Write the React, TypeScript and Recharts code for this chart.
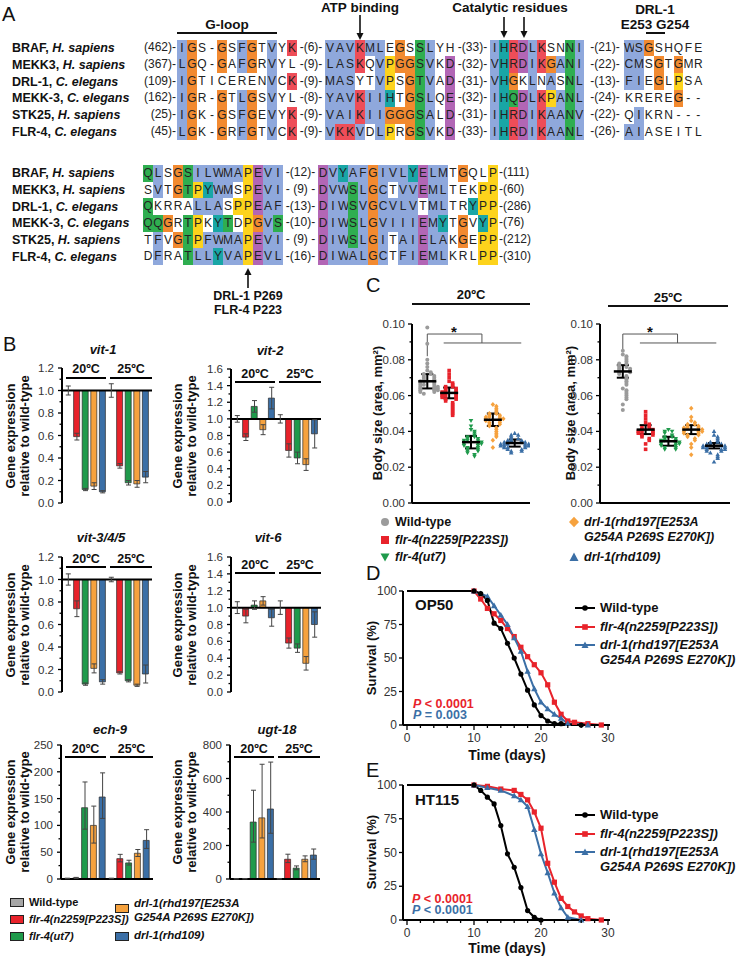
import React from "react";
import {
  ComposedChart,
  ScatterChart,
  LineChart,
  Bar,
  Cell,
  Scatter,
  Line,
  ErrorBar,
  XAxis,
  YAxis,
  ReferenceLine,
} from "recharts";

const FONT = '"Liberation Sans", Arial, Helvetica, sans-serif';

const C_GRAY = "#a6a6a6";
const C_RED = "#e8232b";
const C_GREEN = "#1f9a4b";
const C_ORANGE = "#f6a23e";
const C_BLUE = "#3b6fa6";
const groupColors = [C_GRAY, C_RED, C_GREEN, C_ORANGE, C_BLUE];

// ---------- panel A: alignment ----------
const alignNames = ["BRAF", "MEKK3", "DRL-1", "MEKK-3", "STK25", "FLR-4"];
const alignSpecies = ["H. sapiens", "H. sapiens", "C. elegans", "C. elegans", "H. sapiens", "C. elegans"];
const block1Starts = ["(462)-", "(367)-", "(109)-", "(162)-", "(25)-", "(45)-"];
const block1Gaps = [
  ["-(6)-", "-(33)-", "-(21)-"],
  ["-(9)-", "-(32)-", "-(22)-"],
  ["-(9)-", "-(31)-", "-(13)-"],
  ["-(8)-", "-(32)-", "-(24)-"],
  ["-(9)-", "-(31)-", "-(22)-"],
  ["-(9)-", "-(33)-", "-(26)-"],
];
const block1Seq = [
  ["IGS-GSFGTVYK", "VAVKMLEGSSLYH", "IHRDLKSNNI", "WSGSHQFE"],
  ["LGQ-GAFGRVYL", "LASKQVPGGSVKD", "VHRDIKGANI", "CMSGTGMR"],
  ["IGTICERENVCK", "MASYTVPSGTVAD", "VHGKLNASNL", "FIEGLPSA"],
  ["IGR-GTLGSVYL", "YAVKIIHTGSLQE", "IHQDLKPANL", "KREREG--"],
  ["IGK-GSFGEVYK", "VAIKIIGGGSALD", "IHRDIKAANV", "QIKRN---"],
  ["LGK-GRFGTVCK", "VKKVDLPRGSVKD", "IHRDIKAANL", "AIASEITL"],
];
const block1Col = [
  ["bo..o.bo.b.r", "bbbrbb.o.gb..", "bcrpbr..gb", "bbo....."],
  ["bo..o.bo.b..", "bbbr.byoogb.p", "bcrpbrobgb", "bb.o.o.."],
  ["bo.......b.r", "bbb..by.ogb.p", "bco.b.b.gb", "bb.o.y.."],
  ["bo..o.bo.b..", "bbbrbbc.ogb.p", "bcgpbrybgb", ".....o.."],
  ["bo..o.bo.b.r", "bbbrbbooogb.p", "bcrpbrbbgb", ".b......"],
  ["bo..o.bo.b.r", "brrb.by.ogb.p", "bcrpbrbbgb", "bb......"],
];
const block2Seq = [
  ["QLSGSILWMAPEVI", "DVYAFGIVLYELMTGQLP"],
  ["SVTGTPYWMSPEVI", "DVWSLGCTVVEMLTEKPP"],
  ["QKRRALLASPPEAF", "DIWSVGCVLVTMLTRYPP"],
  ["QQGRTPKYTDPGVS", "DIWSLGVIIIEMYTGVYP"],
  ["TFVGTPFWMAPEVI", "DIWSLGITAIELAKGEPP"],
  ["DFRATLLYVAPEVL", "DIWALGCTFIEMLKRLPP"],
];
const block2Col = [
  ["gb.ogbbbbbypbb", "pbcbbobbbcpbb.o..y"],
  [".b.ogycbb.ypbb", "pbbgbob.bbpbb...yy"],
  ["g....bbb.yypbb", "pbbgbobbbb.bb..cyy"],
  ["ggo.gy.cg.yobg", "pbbgbobbbbpbc.o.cy"],
  [".b.ogybbbbypbb", "pbbgbob.bbpbb.o.yy"],
  [".b..gbbcbbypbb", "pbbbbob.bbpbb...yy"],
];
const block2Gaps = ["-(12)-", "- (9) -", "-(13)-", "-(10)-", "- (9) -", "-(16)-"];
const block2Ends = ["-(111)", "-(60)", "-(286)", "-(76)", "-(212)", "-(310)"];

const RES_COLORS: Record<string, string> = {
  b: "#8fa8dc",
  o: "#f28a30",
  r: "#ee4d58",
  g: "#2fae50",
  y: "#fdd31c",
  c: "#19a6a6",
  p: "#b266b5",
};

// ---------- panel B: qPCR ----------
const groupNames = [
  "Wild-type",
  "flr-4(n2259[P223S])",
  "flr-4(ut7)",
  "drl-1(rhd197[E253A G254A P269S E270K])",
  "drl-1(rhd109)",
];
const temps = ["20ºC", "25ºC"];
const bKeys = temps.flatMap((t) => groupNames.map((g) => `${g} ${t}`));

const vit1Values = [1.0, 0.59, 0.12, 0.15, 0.1, 1.0, 0.33, 0.18, 0.17, 0.23];
const vit1Errors = [0.04, 0.03, 0.01, 0.03, 0.01, 0.06, 0.02, 0.02, 0.03, 0.05];
const vit2Values = [1.0, 0.78, 1.15, 0.87, 1.25, 1.0, 0.62, 0.53, 0.45, 0.82];
const vit2Errors = [0.04, 0.04, 0.07, 0.06, 0.13, 0.05, 0.08, 0.07, 0.07, 0.17];
const vit345Values = [1.0, 0.74, 0.07, 0.21, 0.09, 1.0, 0.17, 0.1, 0.06, 0.16];
const vit345Errors = [0.05, 0.07, 0.01, 0.04, 0.02, 0.02, 0.01, 0.01, 0.01, 0.08];
const vit6Values = [1.0, 0.9, 1.03, 1.08, 0.88, 1.0, 0.58, 0.52, 0.34, 0.8];
const vit6Errors = [0.07, 0.08, 0.05, 0.05, 0.1, 0.08, 0.06, 0.05, 0.08, 0.15];
const ech9Values = [1, 2, 133, 100, 153, 1, 38, 30, 48, 72];
const ech9Errors = [[0.5, 0.5], [1, 1], [40, 48], [33, 36], [40, 45], [0.5, 0.5], [6, 8], [4, 5], [6, 7], [15, 20]];
const ugt18Values = [1, 1.5, 340, 365, 418, 1, 118, 65, 118, 143];
const ugt18Errors = [[0.5, 0.5], [1, 1], [120, 190], [120, 320], [145, 280], [0.5, 0.5], [20, 30], [10, 13], [15, 20], [25, 36]];

const ticks12 = [0, 0.2, 0.4, 0.6, 0.8, 1.0, 1.2];
const ticks16 = [0, 0.2, 0.4, 0.6, 0.8, 1.0, 1.2, 1.4, 1.6];
const ticksEch9 = [0, 50, 100, 150, 200, 250];
const ticksUgt18 = [0, 200, 400, 600, 800];

// ---------- panel C: body size ----------
const body20Wt = [0.098, 0.089, 0.08, 0.078, 0.076, 0.074, 0.073, 0.072, 0.072, 0.071, 0.071, 0.07, 0.07, 0.069, 0.069, 0.068, 0.068, 0.068, 0.067, 0.067, 0.066, 0.066, 0.066, 0.065, 0.065, 0.065, 0.064, 0.064, 0.064, 0.063, 0.063, 0.063, 0.062, 0.062, 0.061];
const body20Flr = [0.074, 0.072, 0.07, 0.068, 0.067, 0.066, 0.065, 0.065, 0.064, 0.064, 0.063, 0.063, 0.062, 0.062, 0.062, 0.061, 0.061, 0.06, 0.06, 0.06, 0.059, 0.059, 0.058, 0.058, 0.057, 0.056, 0.055, 0.054, 0.053, 0.052, 0.051, 0.05, 0.049];
const body20Ut7 = [0.046, 0.043, 0.041, 0.04, 0.039, 0.038, 0.037, 0.037, 0.036, 0.036, 0.035, 0.035, 0.035, 0.034, 0.034, 0.034, 0.033, 0.033, 0.033, 0.032, 0.032, 0.031, 0.031, 0.03, 0.03, 0.029, 0.029, 0.028, 0.027, 0.026];
const body20Rhd197 = [0.055, 0.054, 0.053, 0.052, 0.051, 0.05, 0.05, 0.049, 0.049, 0.048, 0.048, 0.048, 0.047, 0.047, 0.047, 0.046, 0.046, 0.045, 0.045, 0.044, 0.044, 0.043, 0.042, 0.041, 0.04, 0.039, 0.038, 0.037, 0.035, 0.031];
const body20Rhd109 = [0.039, 0.038, 0.038, 0.037, 0.036, 0.036, 0.035, 0.035, 0.035, 0.034, 0.034, 0.034, 0.034, 0.033, 0.033, 0.033, 0.033, 0.033, 0.032, 0.032, 0.032, 0.032, 0.031, 0.031, 0.031, 0.03, 0.03, 0.029, 0.029, 0.028];
const body25Wt = [0.085, 0.083, 0.082, 0.081, 0.08, 0.079, 0.078, 0.078, 0.077, 0.076, 0.076, 0.075, 0.075, 0.074, 0.074, 0.073, 0.073, 0.072, 0.071, 0.07, 0.069, 0.068, 0.067, 0.066, 0.064, 0.063, 0.062, 0.061, 0.06, 0.059, 0.058, 0.055, 0.052];
const body25Flr = [0.051, 0.049, 0.047, 0.045, 0.044, 0.043, 0.042, 0.042, 0.041, 0.041, 0.04, 0.04, 0.04, 0.039, 0.039, 0.038, 0.038, 0.037, 0.036, 0.035, 0.033, 0.03];
const body25Ut7 = [0.041, 0.04, 0.04, 0.039, 0.038, 0.037, 0.037, 0.036, 0.036, 0.035, 0.035, 0.035, 0.034, 0.034, 0.034, 0.033, 0.033, 0.033, 0.032, 0.032, 0.031, 0.031, 0.03, 0.03];
const body25Rhd197 = [0.053, 0.048, 0.046, 0.045, 0.044, 0.044, 0.043, 0.043, 0.042, 0.042, 0.042, 0.041, 0.041, 0.041, 0.04, 0.04, 0.04, 0.039, 0.039, 0.038, 0.038, 0.037, 0.036, 0.035, 0.033, 0.031, 0.027];
const body25Rhd109 = [0.04, 0.038, 0.037, 0.036, 0.035, 0.034, 0.034, 0.033, 0.033, 0.033, 0.032, 0.032, 0.032, 0.032, 0.031, 0.031, 0.031, 0.03, 0.03, 0.03, 0.029, 0.029, 0.028, 0.027, 0.026, 0.025, 0.023];
const body20Mean = [0.068, 0.0615, 0.034, 0.0465, 0.0335];
const body20Sd = [0.004, 0.003, 0.0035, 0.0035, 0.002];
const body25Mean = [0.0735, 0.041, 0.0345, 0.041, 0.032];
const body25Sd = [0.0035, 0.0025, 0.0025, 0.0025, 0.0015];
const bodyTicks = [0, 0.02, 0.04, 0.06, 0.08, 0.1];

// ---------- panels D/E: survival ----------
const op50WtDays = [0, 10, 11, 12, 13, 14, 15, 16, 17, 18, 19, 20, 21, 22, 23, 26];
const op50WtSurv = [100, 100, 98, 93, 76, 72, 61, 50, 38, 26, 15, 7, 3, 1, 1, 0];
const op50FlrDays = [0, 10, 11, 12, 13, 14, 15, 16, 17, 18, 19, 20, 21, 22, 23, 24, 25, 27, 29];
const op50FlrSurv = [100, 100, 94, 87, 83, 78, 72, 66, 58, 51, 45, 39, 30, 17, 8, 3, 2, 1, 0];
const op50DrlDays = [0, 10, 11, 12, 13, 14, 15, 16, 17, 18, 19, 20, 21, 22, 23, 24, 27];
const op50DrlSurv = [100, 100, 98, 96, 89, 82, 75, 65, 55, 40, 27, 17, 12, 8, 5, 1, 0];
const ht115WtDays = [0, 10, 11, 12, 13, 14, 15, 16, 17, 18, 19, 20];
const ht115WtSurv = [100, 100, 96, 91, 86, 70, 49, 39, 24, 7, 2, 0];
const ht115FlrDays = [0, 10, 12, 14, 16, 17, 18, 19, 20, 21, 22, 23, 24, 25, 26, 27, 29];
const ht115FlrSurv = [100, 100, 99, 97, 96, 93, 89, 80, 68, 42, 28, 16, 10, 6, 3, 1, 0];
const ht115DrlDays = [0, 10, 12, 14, 16, 17, 18, 19, 20, 21, 22, 23, 24, 26];
const ht115DrlSurv = [100, 100, 98, 96, 92, 89, 84, 67, 49, 35, 20, 9, 2, 0];
const survTicks = [0, 25, 50, 75, 100];
const dayTicks = [0, 10, 20, 30];

// ---------- helpers ----------
type Box = { x0: number; y0: number; x1: number; y1: number };
function frame(b: Box, yw: number, mt: number, mr: number, mb: number, xh = 0) {
  return {
    left: b.x0 - yw,
    top: b.y0 - mt,
    width: b.x1 - b.x0 + yw + mr,
    height: b.y1 - b.y0 + mt + mb + xh,
    margin: { top: mt, right: mr, bottom: mb, left: 0 },
  };
}
const withMinors = (majors: number[]) =>
  majors.flatMap((m, i) => (i < majors.length - 1 ? [m, (m + majors[i + 1]) / 2] : [m]));

function yTick(majors: number[], fmt: (v: number) => string, gap = 8, size = 11.5) {
  return (p: any) => {
    const v = p.payload.value;
    const major = majors.some((m) => Math.abs(m - v) < 1e-9);
    return (
      <g>
        <line x1={p.x - (major ? 4 : 2.5)} x2={p.x} y1={p.y} y2={p.y} stroke="#000" strokeWidth={1.3} />
        {major && (
          <text x={p.x - gap} y={p.y} dy={4} textAnchor="end" fontSize={size} fill="#333" fontFamily={FONT}>
            {fmt(v)}
          </text>
        )}
      </g>
    );
  };
}
function xTick(majors: number[]) {
  return (p: any) => {
    const v = p.payload.value;
    const major = majors.includes(v);
    return (
      <g>
        <line x1={p.x} x2={p.x} y1={p.y} y2={p.y + (major ? 5 : 3)} stroke="#000" strokeWidth={1.3} />
        {major && (
          <text x={p.x} y={p.y + 17} textAnchor="middle" fontSize={12} fill="#333" fontFamily={FONT}>
            {v}
          </text>
        )}
      </g>
    );
  };
}

type TxtProps = {
  x: number;
  y: number;
  size?: number;
  bold?: boolean;
  italic?: boolean;
  color?: string;
  align?: "left" | "center" | "right";
  rotate?: boolean;
  lh?: number;
  children: React.ReactNode;
};
function Txt({ x, y, size = 12.5, bold = true, italic = false, color = "#111", align = "left", rotate = false, lh, children }: TxtProps) {
  const tx = align === "left" ? "0" : align === "center" ? "-50%" : "-100%";
  return (
    <div
      style={{
        position: "absolute",
        left: x,
        top: y,
        transform: rotate ? "translate(-50%,-50%) rotate(-90deg)" : `translate(${tx},-50%)`,
        fontSize: size,
        fontWeight: bold ? 700 : 400,
        fontStyle: italic ? "italic" : "normal",
        color,
        whiteSpace: "nowrap",
        lineHeight: lh ? `${lh}px` : 1.15,
        textAlign: rotate ? "center" : align,
      }}
    >
      {children}
    </div>
  );
}

// ---------- panel A components ----------
const RH = 16.7;
function Run({ x, y, seq, col, cw }: { x: number; y: number; seq: string; col: string; cw: number }) {
  return (
    <>
      {seq.split("").map((ch, i) => (
        <div
          key={i}
          style={{
            position: "absolute",
            left: x + i * cw,
            top: y - RH / 2,
            width: cw,
            height: RH,
            background: col[i] && col[i] !== "." ? RES_COLORS[col[i]] : "transparent",
            textAlign: "center",
            lineHeight: `${RH}px`,
            fontSize: 12,
            color: "#222",
          }}
        >
          {ch}
        </div>
      ))}
    </>
  );
}

function Alignment() {
  const b1x = [177, 325, 490, 624];
  const b1cw = [10, 10, 9.4, 9.9];
  const b1gapC = [311, 472.5, 605];
  const b2x = [143, 318];
  return (
    <>
      {alignNames.map((n, r) => {
        const y1 = 48 + r * 16.8;
        const y2 = 173.3 + r * 16.7;
        return (
          <React.Fragment key={n}>
            <Txt x={12} y={y1} size={12.5}>
              {n}, <i>{alignSpecies[r]}</i>
            </Txt>
            <Txt x={12} y={y2} size={12.5}>
              {n}, <i>{alignSpecies[r]}</i>
            </Txt>
            <Txt x={176} y={y1} size={12} bold={false} align="right" color="#222">
              {block1Starts[r]}
            </Txt>
            {block1Seq[r].map((s, k) => (
              <Run key={k} x={b1x[k]} y={y1} seq={s} col={block1Col[r][k]} cw={b1cw[k]} />
            ))}
            {block1Gaps[r].map((g, k) => (
              <Txt key={"g" + k} x={b1gapC[k]} y={y1} size={12} bold={false} align="center" color="#222">
                {g}
              </Txt>
            ))}
            {block2Seq[r].map((s, k) => (
              <Run key={"b" + k} x={b2x[k]} y={y2} seq={s} col={block2Col[r][k]} cw={10} />
            ))}
            <Txt x={300.5} y={y2} size={12} bold={false} align="center" color="#222">
              {block2Gaps[r]}
            </Txt>
            <Txt x={499} y={y2} size={12} bold={false} color="#222">
              {block2Ends[r]}
            </Txt>
          </React.Fragment>
        );
      })}
      <Txt x={227} y={25} size={13.5} align="center">G-loop</Txt>
      <Txt x={360} y={8} size={13.5} align="center">ATP binding</Txt>
      <Txt x={510} y={8} size={13.5} align="center">Catalytic residues</Txt>
      <Txt x={655} y={10} size={13.5} align="center">DRL-1</Txt>
      <Txt x={655} y={25} size={13.5} align="center">E253 G254</Txt>
      <Txt x={248} y={296} size={12.5} align="center">DRL-1 P269</Txt>
      <Txt x={248} y={310} size={12.5} align="center">FLR-4 P223</Txt>
    </>
  );
}

// ---------- panel B components ----------
type BarSpec = {
  title: string;
  values: number[];
  errors: (number | number[])[];
  ticks: number[];
  base: number;
  box: Box;
  fmt: (v: number) => string;
  titleX: number;
  titleY: number;
  tempY: number;
  lineY: number;
};

function GeneChart({ s }: { s: BarSpec }) {
  const fr = frame(s.box, 40, 8, 4, 9);
  const data = bKeys.map((k, i) => ({ k, range: [s.base, s.values[i]], v: s.values[i], err: s.errors[i] }));
  const all = withMinors(s.ticks);
  return (
    <div style={{ position: "absolute", left: fr.left, top: fr.top }}>
      <ComposedChart width={fr.width} height={fr.height} data={data} margin={fr.margin}>
        <XAxis dataKey="k" hide padding={{ left: 2, right: 2 }} />
        <YAxis
          type="number"
          domain={[s.ticks[0], s.ticks[s.ticks.length - 1]]}
          ticks={all}
          interval={0}
          width={40}
          tickSize={0}
          tickMargin={0}
          tickLine={false}
          tick={yTick(s.ticks, s.fmt)}
          axisLine={{ stroke: "#000", strokeWidth: 2 }}
          allowDataOverflow
        />
        <Bar dataKey="range" barSize={6} isAnimationActive={false} stroke="#2a2a2a" strokeWidth={0.7}>
          {data.map((d, i) => (
            <Cell key={d.k} fill={groupColors[i % 5]} />
          ))}
        </Bar>
        <ReferenceLine y={s.base} stroke="#000" strokeWidth={2} />
        <Scatter dataKey="v" isAnimationActive={false} shape={() => <g />}>
          <ErrorBar dataKey="err" direction="y" width={2.5} stroke="#444" strokeWidth={1} />
        </Scatter>
      </ComposedChart>
    </div>
  );
}

function GeneAnnotations({ s }: { s: BarSpec }) {
  const xm = (s.box.x0 + s.box.x1) / 2 + 1;
  const segs = [
    [s.box.x0 + 4, xm - 2],
    [xm + 2, s.box.x1],
  ];
  return (
    <>
      <Txt x={s.titleX} y={s.titleY} size={13} italic align="center">{s.title}</Txt>
      {segs.map((g, i) => (
        <React.Fragment key={i}>
          <Txt x={(g[0] + g[1]) / 2} y={s.tempY} size={12.5} align="center">{temps[i]}</Txt>
          <div style={{ position: "absolute", left: g[0], top: s.lineY - 1.2, width: g[1] - g[0], height: 2.5, background: "#000" }} />
        </React.Fragment>
      ))}
    </>
  );
}

const fmt1 = (v: number) => v.toFixed(1);
const fmt0 = (v: number) => String(Math.round(v));
const geneSpecs: BarSpec[] = [
  { title: "vit-1", values: vit1Values, errors: vit1Errors, ticks: ticks12, base: 1, box: { x0: 62, y0: 368, x1: 152, y1: 503 }, fmt: fmt1, titleX: 103, titleY: 350, tempY: 369, lineY: 378 },
  { title: "vit-2", values: vit2Values, errors: vit2Errors, ticks: ticks16, base: 1, box: { x0: 231, y0: 369, x1: 321, y1: 502 }, fmt: fmt1, titleX: 270, titleY: 351, tempY: 374, lineY: 382 },
  { title: "vit-3/4/5", values: vit345Values, errors: vit345Errors, ticks: ticks12, base: 1, box: { x0: 62, y0: 557, x1: 152, y1: 692 }, fmt: fmt1, titleX: 101, titleY: 538, tempY: 559, lineY: 567 },
  { title: "vit-6", values: vit6Values, errors: vit6Errors, ticks: ticks16, base: 1, box: { x0: 231, y0: 557, x1: 321, y1: 692 }, fmt: fmt1, titleX: 268, titleY: 538, tempY: 565, lineY: 573 },
  { title: "ech-9", values: ech9Values, errors: ech9Errors, ticks: ticksEch9, base: 0, box: { x0: 61, y0: 745, x1: 153, y1: 879 }, fmt: fmt0, titleX: 110, titleY: 730, tempY: 749, lineY: 757 },
  { title: "ugt-18", values: ugt18Values, errors: ugt18Errors, ticks: ticksUgt18, base: 0, box: { x0: 230, y0: 745, x1: 320, y1: 879 }, fmt: fmt0, titleX: 277, titleY: 730, tempY: 749, lineY: 757 },
];

// ---------- panel C components ----------
function swarm(values: number[], center: number, dy: number, dx: number) {
  const placed: { x: number; y: number }[] = [];
  [...values].sort((a, b) => b - a).forEach((v) => {
    const k = placed.filter((p) => Math.abs(p.y - v) < dy).length;
    const off = k === 0 ? 0 : (k % 2 === 1 ? 1 : -1) * Math.ceil(k / 2) * dx;
    placed.push({ x: center + off, y: v });
  });
  return placed;
}

const markerShapes = [
  (p: any) => <circle cx={p.cx} cy={p.cy} r={2} fill="#9b9b9b" />,
  (p: any) => <rect x={p.cx - 1.8} y={p.cy - 1.8} width={3.6} height={3.6} fill={C_RED} />,
  (p: any) => <polygon points={`${p.cx - 2.3},${p.cy - 1.6} ${p.cx + 2.3},${p.cy - 1.6} ${p.cx},${p.cy + 2.4}`} fill={C_GREEN} />,
  (p: any) => <polygon points={`${p.cx},${p.cy - 2.5} ${p.cx + 2.2},${p.cy} ${p.cx},${p.cy + 2.5} ${p.cx - 2.2},${p.cy}`} fill={C_ORANGE} />,
  (p: any) => <polygon points={`${p.cx - 2.3},${p.cy + 1.7} ${p.cx + 2.3},${p.cy + 1.7} ${p.cx},${p.cy - 2.4}`} fill={C_BLUE} />,
];

type Bracket = { top: number; low: number; left: number; mid: number; lowL: number; lowR: number; leg: number };
function BodyChart({ box, domain, groups, mean, sd, br }: { box: Box; domain: number[]; groups: number[][]; mean: number[]; sd: number[]; br: Bracket }) {
  const fr = frame(box, 45, 8, 4, 8, 2);
  const stats = mean.map((m, i) => ({ x: i + 1, y: m, err: sd[i] }));
  return (
    <div style={{ position: "absolute", left: fr.left, top: fr.top }}>
      <ScatterChart width={fr.width} height={fr.height} margin={fr.margin}>
        <XAxis type="number" dataKey="x" domain={domain} height={2} tick={false} tickLine={false} axisLine={{ stroke: "#000", strokeWidth: 2 }} allowDataOverflow />
        <YAxis
          type="number"
          dataKey="y"
          domain={[0, 0.1]}
          ticks={withMinors(bodyTicks)}
          interval={0}
          width={45}
          tickSize={0}
          tickMargin={0}
          tickLine={false}
          tick={yTick(bodyTicks, (v) => v.toFixed(2), 7, 11.5)}
          axisLine={{ stroke: "#000", strokeWidth: 2 }}
          allowDataOverflow
        />
        <ReferenceLine segment={[{ x: br.left, y: br.top }, { x: br.mid, y: br.top }]} stroke="#555" strokeWidth={1} />
        <ReferenceLine segment={[{ x: br.left, y: br.top }, { x: br.left, y: br.leg }]} stroke="#555" strokeWidth={1} />
        <ReferenceLine segment={[{ x: br.mid, y: br.top }, { x: br.mid, y: br.low }]} stroke="#555" strokeWidth={1} />
        <ReferenceLine segment={[{ x: br.lowL, y: br.low }, { x: br.lowR, y: br.low }]} stroke="#555" strokeWidth={1} />
        {groups.map((vals, g) => (
          <Scatter key={g} data={swarm(vals, g + 1, 0.0016, 0.16)} shape={markerShapes[g]} isAnimationActive={false} />
        ))}
        <Scatter
          data={stats}
          isAnimationActive={false}
          shape={(p: any) => <line x1={p.cx - 9} x2={p.cx + 9} y1={p.cy} y2={p.cy} stroke="#000" strokeWidth={2.5} />}
        >
          <ErrorBar dataKey="err" direction="y" width={6} stroke="#000" strokeWidth={2} />
        </Scatter>
      </ScatterChart>
    </div>
  );
}

// ---------- panels D/E components ----------
const toSeries = (days: number[], surv: number[]) => days.map((d, i) => ({ day: d, s: surv[i] }));
const dotWt = (p: any) => (p.payload.day === 0 ? <g key={p.index} /> : <circle key={p.index} cx={p.cx} cy={p.cy} r={2.6} fill="#000" />);
const dotFlr = (p: any) =>
  p.payload.day === 0 ? <g key={p.index} /> : <rect key={p.index} x={p.cx - 2.6} y={p.cy - 2.6} width={5.2} height={5.2} fill={C_RED} />;
const dotDrl = (p: any) =>
  p.payload.day === 0 ? (
    <g key={p.index} />
  ) : (
    <polygon key={p.index} points={`${p.cx - 3.2},${p.cy + 2.4} ${p.cx + 3.2},${p.cy + 2.4} ${p.cx},${p.cy - 3.2}`} fill={C_BLUE} />
  );

function SurvivalChart({ box, wt, flr, drl }: { box: Box; wt: any[]; flr: any[]; drl: any[] }) {
  const fr = frame(box, 40, 8, 8, 0, 24);
  return (
    <div style={{ position: "absolute", left: fr.left, top: fr.top }}>
      <LineChart width={fr.width} height={fr.height} margin={fr.margin}>
        <XAxis
          type="number"
          dataKey="day"
          domain={[0, 30]}
          ticks={[0, 2, 4, 6, 8, 10, 12, 14, 16, 18, 20, 22, 24, 26, 28, 30]}
          interval={0}
          tickSize={0}
          tickMargin={0}
          tickLine={false}
          tick={xTick(dayTicks)}
          axisLine={{ stroke: "#000", strokeWidth: 2 }}
          height={24}
          padding={{ left: 4, right: 2 }}
        />
        <YAxis
          type="number"
          domain={[0, 100]}
          ticks={survTicks}
          interval={0}
          width={40}
          tickSize={0}
          tickMargin={0}
          tickLine={false}
          tick={yTick(survTicks, fmt0, 6, 12)}
          axisLine={{ stroke: "#000", strokeWidth: 2 }}
        />
        <Line data={flr} dataKey="s" stroke={C_RED} strokeWidth={2} dot={dotFlr} isAnimationActive={false} />
        <Line data={drl} dataKey="s" stroke={C_BLUE} strokeWidth={2} dot={dotDrl} isAnimationActive={false} />
        <Line data={wt} dataKey="s" stroke="#000" strokeWidth={2} dot={dotWt} isAnimationActive={false} />
      </LineChart>
    </div>
  );
}

function SurvLegend({ x, y }: { x: number; y: number }) {
  const mk = (i: number, yy: number) => (
    <svg style={{ position: "absolute", left: x, top: yy - 5 }} width={22} height={10}>
      <line x1={0} x2={20} y1={5} y2={5} stroke={["#000", C_RED, C_BLUE][i]} strokeWidth={2} />
      {i === 0 && <circle cx={10} cy={5} r={2.8} fill="#000" />}
      {i === 1 && <rect x={7.2} y={2.2} width={5.6} height={5.6} fill={C_RED} />}
      {i === 2 && <polygon points="6.5,8 13.5,8 10,1.5" fill={C_BLUE} />}
    </svg>
  );
  return (
    <>
      {mk(0, y)}
      {mk(1, y + 19)}
      {mk(2, y + 37)}
      <Txt x={x + 25} y={y} size={13}>Wild-type</Txt>
      <Txt x={x + 25} y={y + 19} size={13} italic>flr-4(n2259[P223S])</Txt>
      <Txt x={x + 25} y={y + 37} size={13} italic>drl-1(rhd197[E253A</Txt>
      <Txt x={x + 25} y={y + 52} size={13} italic>G254A P269S E270K])</Txt>
    </>
  );
}

// ---------- legends ----------
function BoxKey({ x, y, color }: { x: number; y: number; color: string }) {
  return <div style={{ position: "absolute", left: x, top: y - 4.5, width: 14, height: 9, background: color, border: "1px solid #222", boxSizing: "border-box" }} />;
}
function MarkKey({ x, y, g }: { x: number; y: number; g: number }) {
  return (
    <svg style={{ position: "absolute", left: x - 6, top: y - 6 }} width={12} height={12}>
      {g === 0 && <circle cx={6} cy={6} r={4} fill="#9b9b9b" />}
      {g === 1 && <rect x={2} y={2} width={8} height={8} fill={C_RED} />}
      {g === 2 && <polygon points="1.5,2.5 10.5,2.5 6,10.5" fill={C_GREEN} />}
      {g === 3 && <polygon points="6,0.8 11,6 6,11.2 1,6" fill={C_ORANGE} />}
      {g === 4 && <polygon points="1.5,10 10.5,10 6,1.5" fill={C_BLUE} />}
    </svg>
  );
}

export default function App() {
  const arrowDown = (x: number, y0: number, y1: number) => (
    <g>
      <line x1={x} x2={x} y1={y0} y2={y1 - 6} stroke="#111" strokeWidth={1.6} />
      <polygon points={`${x - 3.5},${y1 - 7} ${x + 3.5},${y1 - 7} ${x},${y1}`} fill="#111" />
    </g>
  );
  return (
    <div
      style={{
        position: "absolute",
        left: 0,
        top: 0,
        width: 741,
        height: 959,
        background: "#fff",
        fontFamily: FONT,
        color: "#111",
        overflow: "hidden",
      }}
    >
      {/* panel letters */}
      <Txt x={2} y={14} size={20} bold={false}>A</Txt>
      <Txt x={3} y={344} size={20} bold={false}>B</Txt>
      <Txt x={366} y={285} size={20} bold={false}>C</Txt>
      <Txt x={366} y={573} size={20} bold={false}>D</Txt>
      <Txt x={366} y={770} size={20} bold={false}>E</Txt>

      <Alignment />

      {/* panel B */}
      {geneSpecs.map((s) => (
        <GeneChart key={s.title} s={s} />
      ))}
      {geneSpecs.map((s) => (
        <GeneAnnotations key={"a" + s.title} s={s} />
      ))}
      {geneSpecs.map((s, i) => (
        <Txt key={"l" + s.title} x={i % 2 === 0 ? 16.5 : 183.5} y={(s.box.y0 + s.box.y1) / 2} size={13} rotate lh={13.5}>
          Gene expression
          <br />
          relative to wild-type
        </Txt>
      ))}
      <BoxKey x={10} y={902} color={C_GRAY} />
      <BoxKey x={10} y={919} color={C_RED} />
      <BoxKey x={10} y={936} color={C_GREEN} />
      <BoxKey x={115} y={908} color={C_ORANGE} />
      <BoxKey x={115} y={936} color={C_BLUE} />
      <Txt x={29} y={902} size={11}>Wild-type</Txt>
      <Txt x={29} y={919} size={11} italic>flr-4(n2259[P223S])</Txt>
      <Txt x={29} y={936} size={11} italic>flr-4(ut7)</Txt>
      <Txt x={134} y={904} size={11.5} italic>drl-1(rhd197[E253A</Txt>
      <Txt x={134} y={918} size={11.5} italic>G254A P269S E270K])</Txt>
      <Txt x={134} y={936} size={11.5} italic>drl-1(rhd109)</Txt>

      {/* panel C */}
      <BodyChart
        box={{ x0: 412, y0: 324, x1: 530, y1: 503 }}
        domain={[0.3, 5.7]}
        groups={[body20Wt, body20Flr, body20Ut7, body20Rhd197, body20Rhd109]}
        mean={body20Mean}
        sd={body20Sd}
        br={{ top: 0.0944, low: 0.0894, left: 1, mid: 3.5, lowL: 1.75, lowR: 5.3, leg: 0.082 }}
      />
      <BodyChart
        box={{ x0: 600, y0: 324, x1: 730, y1: 503 }}
        domain={[0, 5.7]}
        groups={[body25Wt, body25Flr, body25Ut7, body25Rhd197, body25Rhd109]}
        mean={body25Mean}
        sd={body25Sd}
        br={{ top: 0.0944, low: 0.0894, left: 1, mid: 3.4, lowL: 1.75, lowR: 5.1, leg: 0.0855 }}
      />
      <Txt x={471} y={295} size={13} align="center">20ºC</Txt>
      <Txt x={668} y={298} size={13} align="center">25ºC</Txt>
      <Txt x={454} y={332} size={15} align="center">*</Txt>
      <Txt x={650} y={332} size={15} align="center">*</Txt>
      <Txt x={378} y={413} size={13} rotate>Body size (area, mm²)</Txt>
      <Txt x={571} y={413} size={13} rotate>Body size (area, mm²)</Txt>
      {[0, 1, 2].map((g) => (
        <MarkKey key={g} x={385} y={522 + g * 17.5} g={g} />
      ))}
      <MarkKey x={574} y={522} g={3} />
      <MarkKey x={574} y={557} g={4} />
      <Txt x={395} y={522} size={12.5}>Wild-type</Txt>
      <Txt x={395} y={539.5} size={12.5} italic>flr-4(n2259[P223S])</Txt>
      <Txt x={395} y={557} size={12.5} italic>flr-4(ut7)</Txt>
      <Txt x={584} y={522} size={12.5} italic>drl-1(rhd197[E253A</Txt>
      <Txt x={584} y={537} size={12.5} italic>G254A P269S E270K])</Txt>
      <Txt x={584} y={557} size={12.5} italic>drl-1(rhd109)</Txt>

      {/* panel D */}
      <SurvivalChart
        box={{ x0: 403, y0: 591, x1: 610, y1: 725 }}
        wt={toSeries(op50WtDays, op50WtSurv)}
        flr={toSeries(op50FlrDays, op50FlrSurv)}
        drl={toSeries(op50DrlDays, op50DrlSurv)}
      />
      <Txt x={415} y={605} size={15}>OP50</Txt>
      <Txt x={413} y={704} size={12.5} color={C_RED}><i>P</i> &lt; 0.0001</Txt>
      <Txt x={413} y={715} size={12.5} color={C_BLUE}><i>P</i> = 0.003</Txt>
      <Txt x={372} y={658} size={13} rotate>Survival (%)</Txt>
      <Txt x={507} y={755} size={14} align="center">Time (days)</Txt>
      <SurvLegend x={575} y={608} />

      {/* panel E */}
      <SurvivalChart
        box={{ x0: 403, y0: 785, x1: 610, y1: 920 }}
        wt={toSeries(ht115WtDays, ht115WtSurv)}
        flr={toSeries(ht115FlrDays, ht115FlrSurv)}
        drl={toSeries(ht115DrlDays, ht115DrlSurv)}
      />
      <Txt x={415} y={800} size={15}>HT115</Txt>
      <Txt x={412} y={899} size={12.5} color={C_RED}><i>P</i> &lt; 0.0001</Txt>
      <Txt x={412} y={910} size={12.5} color={C_BLUE}><i>P</i> &lt; 0.0001</Txt>
      <Txt x={372} y={852} size={13} rotate>Survival (%)</Txt>
      <Txt x={507} y={948} size={14} align="center">Time (days)</Txt>
      <SurvLegend x={575} y={815} />

      {/* lines and arrows */}
      <svg style={{ position: "absolute", left: 0, top: 0, pointerEvents: "none" }} width={741} height={959}>
        <line x1={177} x2={277} y1={33} y2={33} stroke="#111" strokeWidth={2} />
        <line x1={646} x2={665} y1={33} y2={33} stroke="#111" strokeWidth={2} />
        {arrowDown(360, 15, 40)}
        {arrowDown(504, 17, 38)}
        {arrowDown(524, 17, 38)}
        <line x1={248} x2={248} y1={274} y2={288} stroke="#111" strokeWidth={1.6} />
        <polygon points="244.5,275 251.5,275 248,268" fill="#111" />
        <line x1={412} x2={530} y1={304} y2={304} stroke="#111" strokeWidth={2} />
        <line x1={608} x2={728} y1={306} y2={306} stroke="#111" strokeWidth={2} />
      </svg>
    </div>
  );
}
